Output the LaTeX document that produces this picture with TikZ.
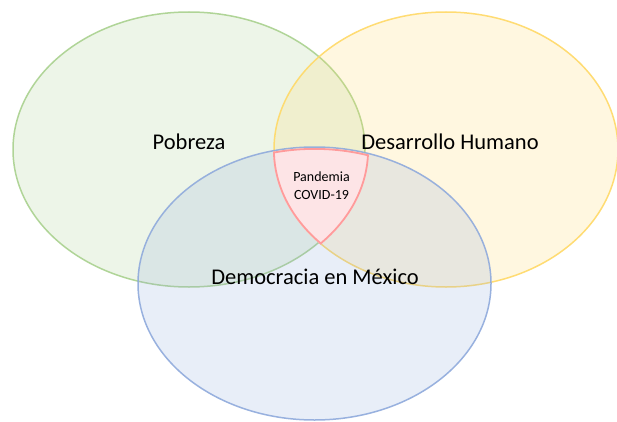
\documentclass[tikz,border=0pt]{standalone}
\usepackage{fontspec}
\setmainfont{Carlito}
\begin{document}
\begin{tikzpicture}[x=1pt,y=1pt,
  ring/.style={line width=1.5pt,fill opacity=0.2,draw opacity=0.9},
  biglabel/.style={text=black,inner sep=0pt,outer sep=0pt,font=\fontsize{22.5}{27}\selectfont},
  smalllabel/.style={text=black,inner sep=0pt,outer sep=0pt,align=center,font=\fontsize{14}{18}\selectfont}]
\definecolor{fillColor}{RGB}{255,255,255}
\path[use as bounding box,fill=fillColor] (0,0) rectangle (617,421);
\definecolor{greenColor}{RGB}{169,209,142}
\definecolor{yellowColor}{RGB}{255,217,102}
\definecolor{blueColor}{RGB}{143,170,220}
\definecolor{pinkLine}{RGB}{255,155,155}
\definecolor{pinkFill}{RGB}{253,228,230}

\path[ring,draw=greenColor,fill=greenColor] (189.0,271.5) ellipse [x radius=176.0,y radius=137.5];

\path[ring,draw=yellowColor,fill=yellowColor] (446.0,271.5) ellipse [x radius=172.0,y radius=137.5];

\path[ring,draw=blueColor,fill=blueColor] (314.5,137.5) ellipse [x radius=176.5,y radius=136.5];

% pandemia region, a little larger than the overlap
\begin{scope}
\clip (192.0,271.5) ellipse [x radius=177.0,y radius=138.5];
\clip (445.0,271.5) ellipse [x radius=172.0,y radius=137.5];
\clip (314.5,136.5) ellipse [x radius=176.5,y radius=136.5];
\path[fill=pinkFill] (0,0) rectangle (617,421);
\path[draw=pinkLine,line width=3.6pt] (192.0,271.5) ellipse [x radius=177.0,y radius=138.5];
\path[draw=pinkLine,line width=3.6pt] (445.0,271.5) ellipse [x radius=172.0,y radius=137.5];
\path[draw=pinkLine,line width=3.6pt] (314.5,136.5) ellipse [x radius=176.5,y radius=136.5];
\end{scope}

\node[biglabel] (pobreza) at (189.0,279.0) {Pobreza};
\node[biglabel] (desarrollo) at (450.0,279.0) {Desarrollo Humano};
\node[biglabel] (democracia) at (315.0,144.0) {Democracia en México};
\node[smalllabel] (pandemia) at (321.5,235.0) {Pandemia\\COVID-19};
\end{tikzpicture}
\end{document}
